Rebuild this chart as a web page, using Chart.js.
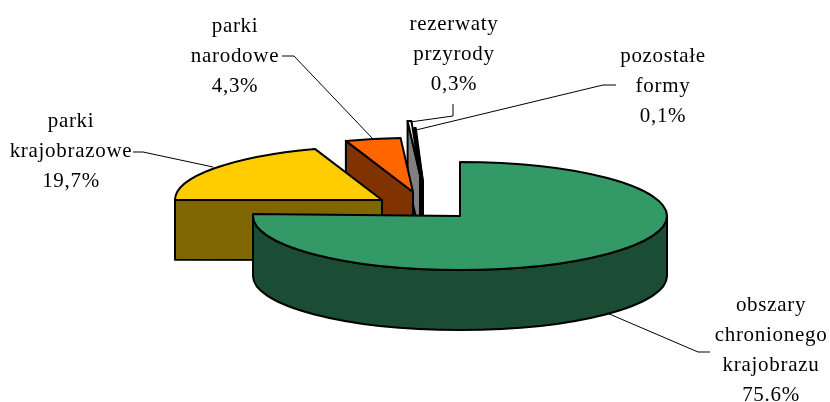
<!DOCTYPE html>
<html>
<head>
<meta charset="utf-8">
<title>Formy ochrony przyrody</title>
<script src="https://cdn.jsdelivr.net/npm/chart.js@4/dist/chart.umd.js"></script>
<style>
  html, body { margin: 0; padding: 0; background: #fff; }
  canvas { display: block; }
</style>
</head>
<body>
<canvas id="pie" width="830" height="402"></canvas>
<script>
// values
const categories = ['obszary chronionego krajobrazu', 'parki krajobrazowe', 'parki narodowe', 'rezerwaty przyrody', 'pozostałe formy'];
const shares = [75.6, 19.7, 4.3, 0.3, 0.1];

// looks
const topColors = ['#339966', '#ffcc00', '#ff6600', '#ffffff', '#000000'];
const sideColors = ['#1a4d33', '#806600', '#803300', '#808080', '#000000'];
// how far each slice is pulled out of the pie, in pixels
const shiftX = [0, -78, -47, -40, -37];
const shiftY = [0, -16, -24, -41, -34];
// the green slice sits 2 degrees off the others
const turnDeg = [2, 0, 0, 0, 0];

const CX = 460, CY = 216, RX = 207, RY = 54, DEPTH = 60;

// label blocks: lines, centre x, first baseline
const labels = [
  { lines: ['obszary', 'chronionego', 'krajobrazu', '75.6%'], x: 771, y: 311 },
  { lines: ['parki', 'krajobrazowe', '19,7%'], x: 71, y: 127 },
  { lines: ['parki', 'narodowe', '4,3%'], x: 235, y: 32 },
  { lines: ['rezerwaty', 'przyrody', '0,3%'], x: 454, y: 30 },
  { lines: ['pozostałe', 'formy', '0,1%'], x: 663, y: 62 }
];
const leaders = [
  [[607, 313], [698, 352], [710, 352]],
  [[133, 152], [143, 152], [213, 167]],
  [[282, 56], [294, 56], [373, 139]],
  [[453, 104], [453, 116], [410, 122]],
  [[616, 85], [603, 85], [416, 130]]
];

const pie3d = {
  id: 'pie3d',
  beforeDatasetDraw(chart, args) {
    const ctx = chart.ctx;
    const arcs = args.meta.data;
    const sx = RX / arcs[0].outerRadius;
    const sy = RY / arcs[0].outerRadius;

    // back slices first, green one last
    for (let i = arcs.length - 1; i >= 0; i--) {
      const arc = arcs[i];
      const x0 = CX + shiftX[i], y0 = CY + shiftY[i];
      const turn = turnDeg[i] * Math.PI / 180;
      const a0 = arc.startAngle + turn, a1 = arc.endAngle + turn;
      const rim = a => [x0 + RX * Math.cos(a), y0 + RY * Math.sin(a)];

      ctx.save();
      ctx.lineWidth = 2;
      ctx.lineJoin = 'round';
      ctx.strokeStyle = '#000';
      ctx.fillStyle = sideColors[i];

      // cut faces turned to the viewer
      [[a0, Math.cos(a0) < 0], [a1, Math.cos(a1) > 0]].forEach(([a, visible]) => {
        if (!visible) return;
        const p = rim(a);
        ctx.beginPath();
        ctx.moveTo(x0, y0);
        ctx.lineTo(p[0], p[1]);
        ctx.lineTo(p[0], p[1] + DEPTH);
        ctx.lineTo(x0, y0 + DEPTH);
        ctx.closePath();
        ctx.fill();
        ctx.stroke();
      });

      // outer wall, only the part on the near side
      const from = Math.max(a0, 0), to = Math.min(a1, Math.PI);
      if (to > from) {
        ctx.beginPath();
        ctx.ellipse(x0, y0, RX, RY, 0, from, to);
        ctx.ellipse(x0, y0 + DEPTH, RX, RY, 0, to, from, true);
        ctx.closePath();
        ctx.fill();
        ctx.stroke();
      }
      ctx.restore();

      // top face, filled by the arc element itself
      ctx.save();
      ctx.translate(x0, y0);
      ctx.scale(sx, sy);
      ctx.rotate(turn);
      ctx.translate(-arc.x, -arc.y);
      arc.draw(ctx);
      ctx.restore();

      // outline at even width
      ctx.save();
      ctx.lineWidth = 2;
      ctx.lineJoin = 'round';
      ctx.strokeStyle = '#000';
      ctx.beginPath();
      ctx.moveTo(x0, y0);
      ctx.ellipse(x0, y0, RX, RY, 0, a0, a1);
      ctx.closePath();
      ctx.stroke();
      ctx.restore();
    }
    return false;
  },
  afterDraw(chart) {
    const ctx = chart.ctx;
    ctx.save();
    ctx.strokeStyle = '#000';
    ctx.lineWidth = 1;
    leaders.forEach(pts => {
      ctx.beginPath();
      pts.forEach((p, i) => i ? ctx.lineTo(p[0], p[1]) : ctx.moveTo(p[0], p[1]));
      ctx.stroke();
    });
    ctx.fillStyle = '#000';
    ctx.font = '21px "Liberation Serif"';
    ctx.letterSpacing = '0.7px';
    ctx.textAlign = 'center';
    labels.forEach(l => {
      l.lines.forEach((t, i) => ctx.fillText(t, l.x, l.y + i * 30));
    });
    ctx.restore();
  }
};

new Chart(document.getElementById('pie'), {
  type: 'pie',
  data: {
    labels: categories,
    datasets: [{ data: shares, backgroundColor: topColors, borderWidth: 0 }]
  },
  options: {
    responsive: false,
    animation: false,
    rotation: -2,
    plugins: { legend: { display: false }, tooltip: { enabled: false } }
  },
  plugins: [pie3d]
});
</script>
</body>
</html>
